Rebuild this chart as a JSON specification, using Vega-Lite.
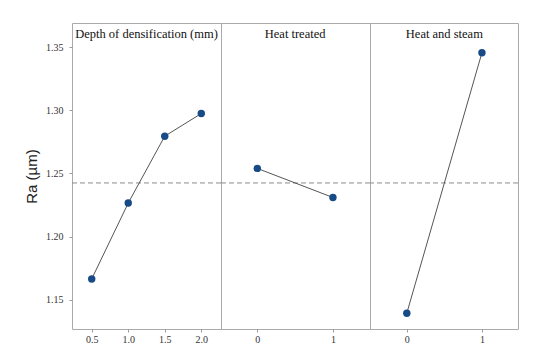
{
  "$schema": "https://vega.github.io/schema/vega-lite/v6.json",
  "background": "white",
  "padding": {"left": 24, "top": 22, "right": 19, "bottom": 5},
  "spacing": 0,
  "bounds": "flush",
  "config": {
    "view": {"stroke": "#aaaaaa", "strokeWidth": 1},
    "concat": {"spacing": 0},
    "axis": {"grid": false, "labelFont": "Liberation Serif", "labelFontSize": 10, "labelColor": "#333333", "tickColor": "#999999", "domain": false, "tickSize": 3}
  },
  "datasets": {
    "depth": [
      {"level": 0.5, "Ra": 1.1666},
      {"level": 1.0, "Ra": 1.2266},
      {"level": 1.5, "Ra": 1.2795},
      {"level": 2.0, "Ra": 1.2974}
    ],
    "heat": [
      {"level": 0, "Ra": 1.2540},
      {"level": 1, "Ra": 1.2310}
    ],
    "steam": [
      {"level": 0, "Ra": 1.1395},
      {"level": 1, "Ra": 1.3455}
    ],
    "mean": [{"Ra": 1.2425}],
    "t1": [{"label": "Depth of densification (mm)", "x": 1.25, "y": 1.360}],
    "t2": [{"label": "Heat treated", "x": 0.5, "y": 1.360}],
    "t3": [{"label": "Heat and steam", "x": 0.5, "y": 1.360}]
  },
  "hconcat": [
    {
      "width": 149, "height": 306,
      "layer": [
        {"data": {"name": "mean"}, "mark": {"type": "rule", "color": "#8c8c8c", "strokeDash": [5, 3], "strokeWidth": 1}, "encoding": {"y": {"field": "Ra", "type": "quantitative", "scale": {"domain": [1.127, 1.369]}}}},
        {"data": {"name": "depth"}, "mark": {"type": "line", "color": "#555555", "strokeWidth": 1}, "encoding": {
          "x": {"field": "level", "type": "quantitative", "scale": {"domain": [0.23, 2.27], "nice": false, "zero": false}, "axis": {"values": [0.5, 1.0, 1.5, 2.0], "format": ".1f", "title": null}},
          "y": {"field": "Ra", "type": "quantitative", "scale": {"domain": [1.127, 1.369], "nice": false, "zero": false}, "axis": {"values": [1.15, 1.2, 1.25, 1.3, 1.35], "format": ".2f", "title": "Ra (µm)", "titleFont": "Liberation Sans", "titleFontSize": 15, "titleFontWeight": "normal", "titleColor": "#222222", "labelPadding": 6, "titlePadding": 6}}
        }},
        {"data": {"name": "depth"}, "mark": {"type": "point", "filled": true, "opacity": 1, "color": "#174a86", "size": 55, "shape": "circle"}, "encoding": {
          "x": {"field": "level", "type": "quantitative"},
          "y": {"field": "Ra", "type": "quantitative"}
        }},
        {"data": {"name": "t1"}, "mark": {"type": "text", "font": "Liberation Serif", "fontSize": 12.5, "color": "#111111", "baseline": "middle", "align": "center"}, "encoding": {
          "x": {"field": "x", "type": "quantitative"},
          "y": {"field": "y", "type": "quantitative"},
          "text": {"field": "label"}
        }}
      ]
    },
    {
      "width": 149, "height": 306,
      "layer": [
        {"data": {"name": "mean"}, "mark": {"type": "rule", "color": "#8c8c8c", "strokeDash": [5, 3], "strokeWidth": 1}, "encoding": {"y": {"field": "Ra", "type": "quantitative", "scale": {"domain": [1.127, 1.369]}, "axis": null}}},
        {"data": {"name": "heat"}, "mark": {"type": "line", "color": "#555555", "strokeWidth": 1}, "encoding": {
          "x": {"field": "level", "type": "quantitative", "scale": {"domain": [-0.48, 1.49], "nice": false, "zero": false}, "axis": {"values": [0, 1], "format": "d", "title": null}},
          "y": {"field": "Ra", "type": "quantitative", "scale": {"domain": [1.127, 1.369], "nice": false, "zero": false}, "axis": null}
        }},
        {"data": {"name": "heat"}, "mark": {"type": "point", "filled": true, "opacity": 1, "color": "#174a86", "size": 55, "shape": "circle"}, "encoding": {
          "x": {"field": "level", "type": "quantitative"},
          "y": {"field": "Ra", "type": "quantitative", "axis": null}
        }},
        {"data": {"name": "t2"}, "mark": {"type": "text", "font": "Liberation Serif", "fontSize": 12.5, "color": "#111111", "baseline": "middle", "align": "center"}, "encoding": {
          "x": {"field": "x", "type": "quantitative"},
          "y": {"field": "y", "type": "quantitative", "axis": null},
          "text": {"field": "label"}
        }}
      ]
    },
    {
      "width": 148, "height": 306,
      "layer": [
        {"data": {"name": "mean"}, "mark": {"type": "rule", "color": "#8c8c8c", "strokeDash": [5, 3], "strokeWidth": 1}, "encoding": {"y": {"field": "Ra", "type": "quantitative", "scale": {"domain": [1.127, 1.369]}, "axis": null}}},
        {"data": {"name": "steam"}, "mark": {"type": "line", "color": "#555555", "strokeWidth": 1}, "encoding": {
          "x": {"field": "level", "type": "quantitative", "scale": {"domain": [-0.49, 1.48], "nice": false, "zero": false}, "axis": {"values": [0, 1], "format": "d", "title": null}},
          "y": {"field": "Ra", "type": "quantitative", "scale": {"domain": [1.127, 1.369], "nice": false, "zero": false}, "axis": null}
        }},
        {"data": {"name": "steam"}, "mark": {"type": "point", "filled": true, "opacity": 1, "color": "#174a86", "size": 55, "shape": "circle"}, "encoding": {
          "x": {"field": "level", "type": "quantitative"},
          "y": {"field": "Ra", "type": "quantitative", "axis": null}
        }},
        {"data": {"name": "t3"}, "mark": {"type": "text", "font": "Liberation Serif", "fontSize": 12.5, "color": "#111111", "baseline": "middle", "align": "center"}, "encoding": {
          "x": {"field": "x", "type": "quantitative"},
          "y": {"field": "y", "type": "quantitative", "axis": null},
          "text": {"field": "label"}
        }}
      ]
    }
  ]
}
